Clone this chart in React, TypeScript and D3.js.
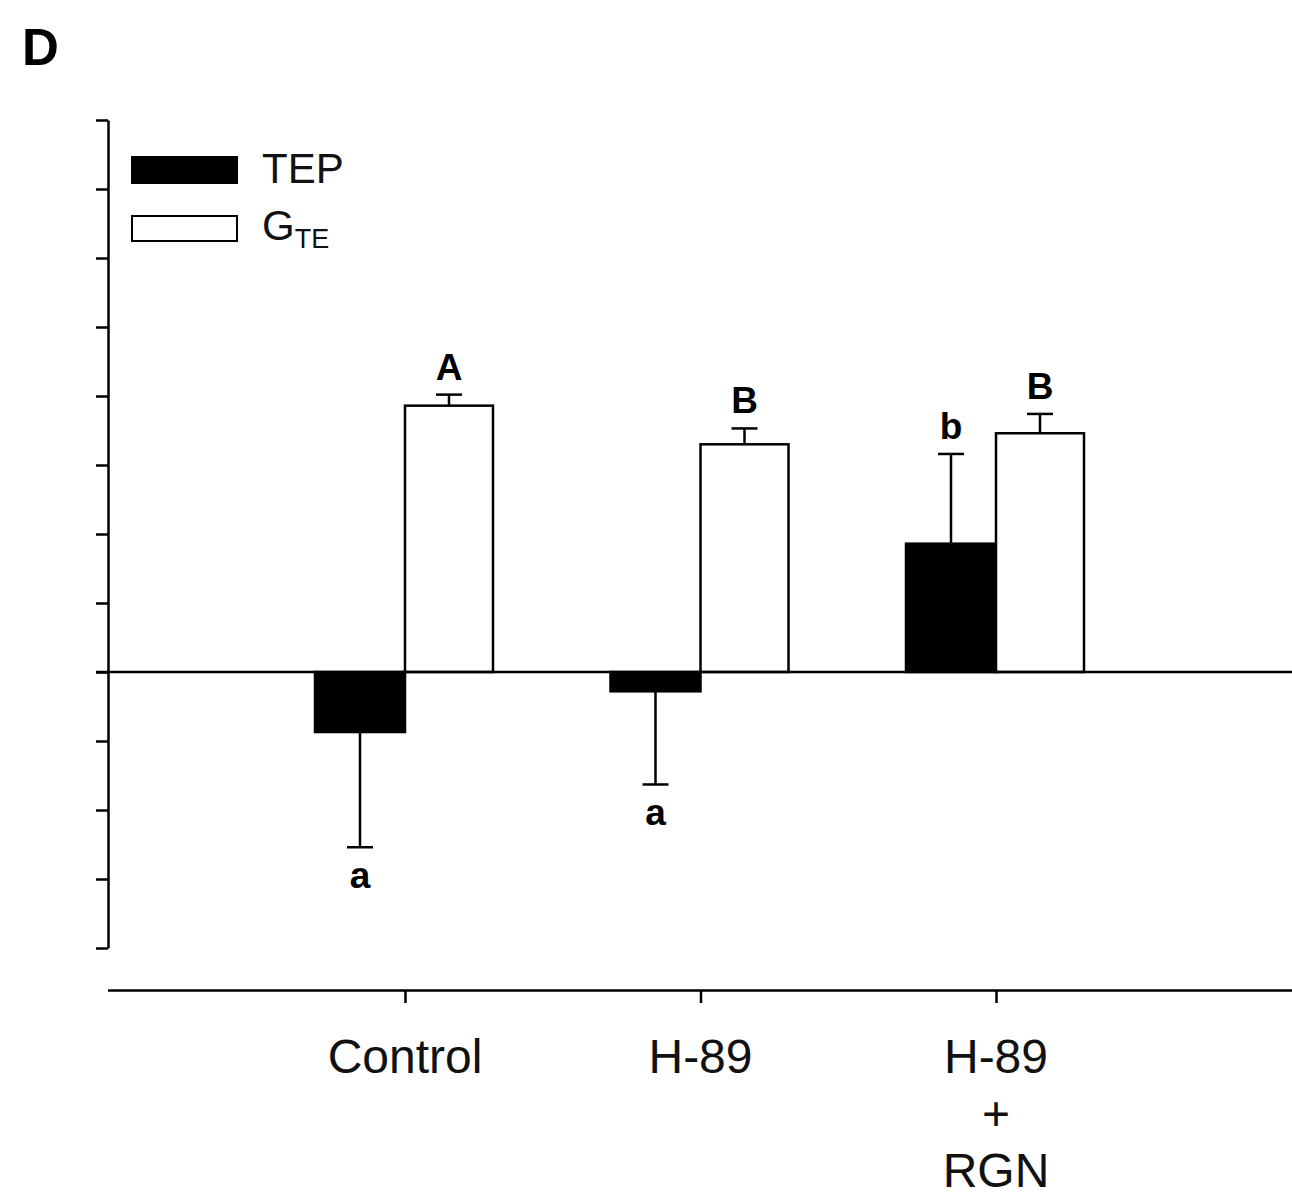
import React, { useEffect, useRef } from 'react';
import * as d3 from 'd3';

// data (units = one y tick)
const groups = ['Control', 'H-89', 'H-89\n+\nRGN'];
const tepValues = [-0.87, -0.28, 1.86];
const tepErrors = [1.67, 1.35, 1.3];
const gteValues = [3.86, 3.3, 3.46];
const gteErrors = [0.16, 0.23, 0.28];
const tepLetters = ['a', 'a', 'b'];
const gteLetters = ['A', 'B', 'B'];
const yTicks = d3.range(-4, 9, 1);

const FONT = "'Liberation Sans', Arial, Helvetica, sans-serif";

const App = () => {
  const ref = useRef<SVGSVGElement>(null);

  useEffect(() => {
    const svg = d3.select(ref.current);
    svg.selectAll('*').remove();

    const y = d3.scaleLinear().domain([-4, 8]).range([948, 120]);
    const x = d3.scaleLinear().domain([0, 4]).range([109.5, 1291.5]);
    const barW = 90;
    const sw = 2.5;

    // y axis (no labels)
    const yAxis = svg.append('g')
      .attr('transform', 'translate(108,0)')
      .call(d3.axisLeft(y).tickValues(yTicks).tickSize(12).tickSizeOuter(0).tickFormat(() => ''));
    yAxis.selectAll('path, line').attr('stroke', '#000').attr('stroke-width', sw);

    // x axis
    const xAxis = svg.append('g')
      .attr('transform', 'translate(0,990)')
      .call(d3.axisBottom(x).tickValues([1, 2, 3]).tickSize(13).tickSizeOuter(0).tickFormat(() => ''));
    xAxis.selectAll('path, line').attr('stroke', '#000').attr('stroke-width', sw);
    xAxis.select('path').attr('d', `M108,0.5H1292`);

    // category labels (multi-line)
    groups.forEach((g, i) => {
      const t = svg.append('text')
        .attr('x', x(i + 1))
        .attr('y', 1073)
        .attr('text-anchor', 'middle')
        .style('font-family', FONT)
        .style('font-size', '48px')
        .attr('fill', '#111');
      g.split('\n').forEach((line, j) => {
        t.append('tspan').attr('x', x(i + 1)).attr('dy', j === 0 ? 0 : 57).text(line);
      });
    });

    const bars = svg.append('g');
    groups.forEach((g, i) => {
      const cx = x(i + 1);
      // TEP bar (black, left)
      const tv = tepValues[i];
      bars.append('rect')
        .attr('x', cx - barW)
        .attr('y', Math.min(y(tv), y(0)))
        .attr('width', barW)
        .attr('height', Math.abs(y(tv) - y(0)))
        .attr('fill', '#000')
        .attr('stroke', '#000')
        .attr('stroke-width', sw);
      // GTE bar (white, right)
      const gv = gteValues[i];
      bars.append('rect')
        .attr('x', cx)
        .attr('y', y(gv))
        .attr('width', barW - 2)
        .attr('height', y(0) - y(gv))
        .attr('fill', '#fff')
        .attr('stroke', '#000')
        .attr('stroke-width', sw);

      // error bars (one-sided, away from zero)
      const errs = [
        { cx: cx - barW / 2, v: tv, e: tepErrors[i], letter: tepLetters[i] },
        { cx: cx + (barW - 2) / 2, v: gv, e: gteErrors[i], letter: gteLetters[i] },
      ];
      errs.forEach(d => {
        const end = d.v >= 0 ? d.v + d.e : d.v - d.e;
        bars.append('line')
          .attr('x1', d.cx).attr('x2', d.cx)
          .attr('y1', y(d.v)).attr('y2', y(end))
          .attr('stroke', '#000').attr('stroke-width', sw);
        bars.append('line')
          .attr('x1', d.cx - 13).attr('x2', d.cx + 13)
          .attr('y1', y(end)).attr('y2', y(end))
          .attr('stroke', '#000').attr('stroke-width', sw);
        bars.append('text')
          .attr('x', d.cx)
          .attr('y', d.v >= 0 ? y(end) - 15 : y(end) + 41)
          .attr('text-anchor', 'middle')
          .style('font-family', FONT)
          .style('font-size', '37px')
          .style('font-weight', 'bold')
          .attr('fill', '#000')
          .text(d.letter);
      });
    });

    // zero line
    svg.append('line')
      .attr('x1', 96).attr('x2', 1292)
      .attr('y1', y(0)).attr('y2', y(0))
      .attr('stroke', '#000').attr('stroke-width', sw);

    // legend
    svg.append('rect')
      .attr('x', 132).attr('y', 157).attr('width', 105).attr('height', 26)
      .attr('fill', '#000').attr('stroke', '#000').attr('stroke-width', 2);
    svg.append('text')
      .attr('x', 262).attr('y', 183)
      .style('font-family', FONT).style('font-size', '42px').attr('fill', '#111')
      .text('TEP');
    svg.append('rect')
      .attr('x', 132).attr('y', 216).attr('width', 105).attr('height', 25)
      .attr('fill', '#fff').attr('stroke', '#000').attr('stroke-width', 2);
    const g = svg.append('text')
      .attr('x', 262).attr('y', 240)
      .style('font-family', FONT).style('font-size', '42px').attr('fill', '#111');
    g.append('tspan').text('G');
    g.append('tspan').attr('dy', 8).style('font-size', '27px').text('TE');

    // panel letter
    svg.append('text')
      .attr('x', 22).attr('y', 65)
      .style('font-family', FONT).style('font-size', '51px').style('font-weight', 'bold')
      .attr('fill', '#000')
      .text('D');
  }, []);

  return (
    <svg
      ref={ref}
      width={1292}
      height={1199}
      style={{ position: 'absolute', left: 0, top: 0, background: '#fff' }}
    />
  );
};

export default App;
